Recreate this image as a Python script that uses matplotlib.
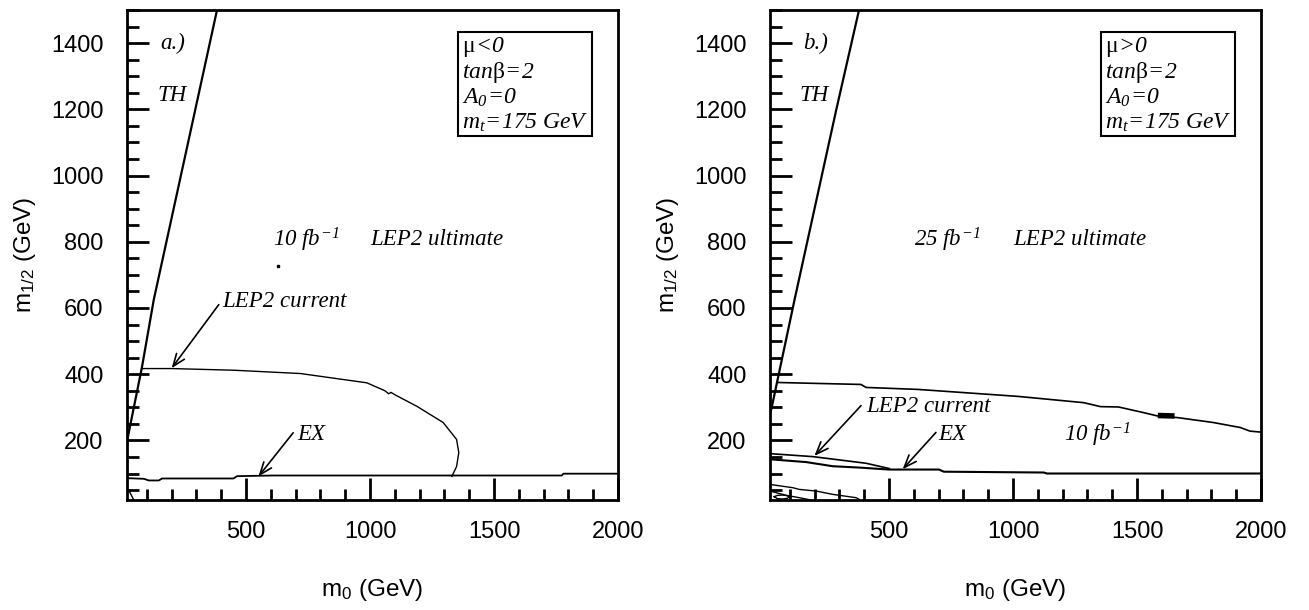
import matplotlib
matplotlib.use("Agg")
import matplotlib.pyplot as plt
from matplotlib.ticker import MultipleLocator, FormatStrFormatter
from matplotlib.patches import Rectangle

plt.rcParams['font.family'] = ['Liberation Sans', 'DejaVu Sans']
plt.rcParams['mathtext.fontset'] = 'custom'
plt.rcParams['mathtext.rm'] = 'Liberation Serif:italic'
plt.rcParams['mathtext.it'] = 'Liberation Serif:italic'
plt.rcParams['mathtext.bf'] = 'Liberation Serif'
plt.rcParams['mathtext.sf'] = 'Liberation Sans'

# ---------------- data (m0, m1/2 in GeV) ----------------
XLIM = (20, 2000)
YLIM = (20, 1500)

# panel a (mu<0)
a_th_x = [20, 27, 81, 128, 295, 383]
a_th_y = [196, 223, 424, 625, 1198, 1500]
a_lep2cur_x = [80, 200, 450, 719, 987, 1060, 1075, 1085, 1100, 1189, 1295, 1349, 1358, 1349, 1330]
a_lep2cur_y = [417, 417, 412, 402, 374, 350, 341, 345, 338, 303, 254, 203, 163, 121, 91]
a_ex_x = [20, 88, 108, 148, 162, 449, 464, 610, 1773, 1780, 2000]
a_ex_y = [86, 84, 79, 79, 85, 85, 92, 94, 94, 99.5, 99.5]
a_corner_x = [26, 35, 46]
a_corner_y = [52, 38, 22]
a_dot = (630, 727)

# panel b (mu>0)
b_th_x = [20, 25, 119, 287, 379]
b_th_y = [282, 293, 625, 1198, 1500]
b_10fb_x = [48, 387, 407, 617, 1019, 1285, 1353, 1425, 1526, 1587, 1662, 1808, 1916, 1956, 2000]
b_10fb_y = [375, 369, 360, 354, 333, 314, 302, 301, 284, 273, 269, 254, 239, 228, 225]
b_blob_x = [1595, 1640]
b_blob_y = [275, 274]
b_lep2cur_x = [20, 193, 407, 501]
b_lep2cur_y = [160, 151, 131, 115]
b_ex_x = [20, 166, 273, 379, 500, 701, 721, 1124, 1137, 2000]
b_ex_y = [143, 134.5, 122, 118, 112, 112, 105.5, 103, 100, 100]
b_low1_x = [20, 113, 138, 206, 273, 367, 380]
b_low1_y = [67, 57, 52, 47, 37, 27, 22]
b_low2_x = [20, 86, 138, 178]
b_low2_y = [47, 34, 27, 21]
b_loop_x = [37, 50, 70, 90, 97, 90, 70, 50, 37]
b_loop_y = [30, 34, 35, 33, 29, 25, 23, 24, 30]

legend_a = [r'$\mathbf{\mu}\!<\!0$', r'$tan\mathbf{\beta}\!=\!2$',
            r'$A_0\!=\!0$', r'$m_t\!=\!175\ GeV$']
legend_b = [r'$\mathbf{\mu}\!>\!0$', r'$tan\mathbf{\beta}\!=\!2$',
            r'$A_0\!=\!0$', r'$m_t\!=\!175\ GeV$']

fig = plt.figure(figsize=(13.09, 6.10), dpi=100)
ax1 = fig.add_axes([127/1309, 110/610, 491/1309, 490/610])
ax2 = fig.add_axes([770/1309, 110/610, 491/1309, 490/610])

TFS = 16.5
serif = dict(family='Liberation Serif', style='italic', fontsize=TFS)


def style(ax):
    ax.set_xlim(*XLIM)
    ax.set_ylim(*YLIM)
    ax.xaxis.set_major_locator(MultipleLocator(500))
    ax.xaxis.set_minor_locator(MultipleLocator(100))
    ax.yaxis.set_major_locator(MultipleLocator(200))
    ax.yaxis.set_minor_locator(MultipleLocator(50))
    ax.xaxis.set_major_formatter(FormatStrFormatter('%d'))
    ax.yaxis.set_major_formatter(FormatStrFormatter('%d'))
    ax.tick_params(which='both', direction='in', top=False, right=False, width=2, labelsize=17)
    ax.tick_params(axis='x', which='major', length=16, pad=15)
    ax.tick_params(axis='x', which='minor', length=8)
    ax.tick_params(axis='y', which='major', length=16, pad=17)
    ax.tick_params(axis='y', which='minor', length=8.5)
    for s in ax.spines.values():
        s.set_linewidth(2)
    ax.set_xlabel(r'm$_\mathsf{0}$ (GeV)', fontsize=17.5)
    ax.set_ylabel(r'm$_\mathsf{1/2}$ (GeV)', fontsize=17.5)
    ax.xaxis.set_label_coords(0.5, -0.184)
    ax.xaxis.label.set_va('center')
    ax.yaxis.set_label_coords(-0.208, 0.5)
    ax.yaxis.label.set_va('center')
    ax.yaxis.label.set_ha('center')


def legend_box(ax, lines):
    ax.add_patch(Rectangle((0.674, 0.743), 0.273, 0.212, transform=ax.transAxes,
                           fill=False, lw=1.5, ec='black', zorder=5))
    for txt, yb in zip(lines, [0.914, 0.861, 0.808, 0.757]):
        ax.text(0.683, yb, txt, transform=ax.transAxes, fontsize=17, va='baseline', ha='left')


def arrow(ax, tip, start):
    ax.annotate('', xy=tip, xytext=start,
                arrowprops=dict(arrowstyle='->,head_length=0.9,head_width=0.35', lw=1.2,
                                color='black', shrinkA=0, shrinkB=0))


for ax in (ax1, ax2):
    style(ax)

# ---- panel a ----
ax1.plot(a_th_x, a_th_y, color='black', lw=1.6)
ax1.plot(a_lep2cur_x, a_lep2cur_y, color='black', lw=1.0)
ax1.plot(a_ex_x, a_ex_y, color='black', lw=1.3)
ax1.plot(a_corner_x, a_corner_y, color='black', lw=1.0)
ax1.plot([a_dot[0]], [a_dot[1]], marker='s', ms=1.6, color='black')
ax1.text(155, 1400, 'a.)', va='center', ha='left', **serif)
ax1.text(143, 1243, 'TH', va='center', ha='left', **serif)
ax1.text(610, 806, r'$10\ fb^{-1}$', va='center', ha='left', fontsize=TFS)
ax1.text(1000, 806, 'LEP2 ultimate', va='center', ha='left', **serif)
ax1.text(405, 619, 'LEP2 current', va='center', ha='left', **serif)
ax1.text(706, 217, 'EX', va='center', ha='left', **serif)
arrow(ax1, (200, 418), (390, 610))
arrow(ax1, (550, 91), (690, 223))
legend_box(ax1, legend_a)

# ---- panel b ----
ax2.plot(b_th_x, b_th_y, color='black', lw=1.6)
ax2.plot(b_10fb_x, b_10fb_y, color='black', lw=1.2)
ax2.plot(b_blob_x, b_blob_y, color='black', lw=4)
ax2.plot(b_lep2cur_x, b_lep2cur_y, color='black', lw=1.2)
ax2.plot(b_ex_x, b_ex_y, color='black', lw=1.5)
ax2.plot(b_low1_x, b_low1_y, color='black', lw=1.0)
ax2.plot(b_low2_x, b_low2_y, color='black', lw=1.0)
ax2.plot(b_loop_x, b_loop_y, color='black', lw=1.0)
ax2.text(152, 1400, 'b.)', va='center', ha='left', **serif)
ax2.text(138, 1243, 'TH', va='center', ha='left', **serif)
ax2.text(600, 806, r'$25\ fb^{-1}$', va='center', ha='left', fontsize=TFS)
ax2.text(1000, 806, 'LEP2 ultimate', va='center', ha='left', **serif)
ax2.text(407, 303, 'LEP2 current', va='center', ha='left', **serif)
ax2.text(700, 218, 'EX', va='center', ha='left', **serif)
ax2.text(1204, 218, r'$10\ fb^{-1}$', va='center', ha='left', fontsize=TFS)
arrow(ax2, (199, 153), (387, 305))
arrow(ax2, (555, 113), (689, 224))
legend_box(ax2, legend_b)

fig.savefig('out.png', dpi=100)
